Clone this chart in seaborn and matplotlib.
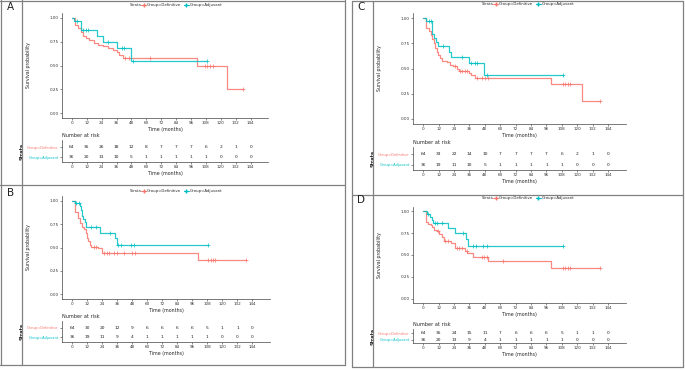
import numpy as np
import matplotlib
matplotlib.use("Agg")
import matplotlib.pyplot as plt
from matplotlib.lines import Line2D
import seaborn as sns

sns.set_theme(style="white")
plt.rcParams["font.family"] = ["DejaVu Sans"]

RED = "#F8766D"
CYAN = "#00BFC4"
BREAKS = [0, 12, 24, 36, 48, 60, 72, 84, 96, 108, 120, 132, 144]

# --- panel A ---
a_def_t = [0, 2.5, 5, 7, 9, 11, 14, 18, 21, 25, 29, 33, 36, 38, 41, 101, 125]
a_def_s = [1.0, 0.92, 0.89, 0.85, 0.81, 0.79, 0.77, 0.74, 0.72, 0.70, 0.68, 0.66, 0.64, 0.61, 0.575, 0.49, 0.25]
a_def_cens = [43, 46, 63, 107, 109, 111, 114, 138]
a_adj_t = [0, 2, 7, 20, 25, 36, 48]
a_adj_s = [1.0, 0.97, 0.87, 0.81, 0.75, 0.68, 0.545]
a_adj_cens = [4, 9, 11, 13, 29, 40, 42, 49, 109]
a_risk_def = [64, 35, 26, 18, 12, 8, 7, 7, 7, 6, 2, 1, 0]
a_risk_adj = [36, 20, 13, 10, 5, 1, 1, 1, 1, 1, 0, 0, 0]

# --- panel B ---
b_def_t = [0, 2.6, 5, 6.5, 8, 9.5, 10.8, 11.8, 13, 14, 15, 20.5, 24, 100.6]
b_def_s = [1.0, 0.88, 0.81, 0.76, 0.72, 0.70, 0.65, 0.60, 0.57, 0.53, 0.51, 0.49, 0.44, 0.365]
b_def_cens = [17.9, 19.2, 25.7, 27.6, 29.7, 33.6, 35.5, 41.5, 48, 50.2, 108.5, 110.6, 112.5, 114.3, 138.7]
b_adj_t = [0, 2.5, 6.5, 7.2, 7.9, 8.7, 10, 11.3, 22.6, 34.4, 35.7]
b_adj_s = [1.0, 0.97, 0.94, 0.90, 0.84, 0.80, 0.77, 0.72, 0.66, 0.60, 0.53]
b_adj_cens = [3.4, 5.5, 15.2, 19.2, 30.5, 37, 39, 46.8, 49.4, 108.5]
b_risk_def = [64, 30, 20, 12, 9, 6, 6, 6, 6, 5, 1, 1, 0]
b_risk_adj = [36, 19, 11, 9, 4, 1, 1, 1, 1, 1, 0, 0, 0]

# --- panel C ---
c_def_t = [0, 2, 4.7, 5.7, 7, 8.3, 9.1, 10.4, 11.7, 13, 14.8, 18.2, 20.8, 23.4, 26, 28, 35.7, 37.2, 40.4, 99.7, 124]
c_def_s = [1.0, 0.90, 0.87, 0.83, 0.79, 0.75, 0.70, 0.66, 0.63, 0.60, 0.575, 0.56, 0.53, 0.52, 0.50, 0.48, 0.46, 0.44, 0.41, 0.35, 0.175]
c_def_cens = [24.7, 28.6, 30.5, 32.6, 33.9, 41.7, 46.1, 48.2, 50.3, 108.6, 110.7, 112.8, 114.6, 138]
c_adj_t = [0, 2, 7, 8.3, 9.6, 11.5, 20, 22, 35.7, 47.4]
c_adj_s = [1.0, 0.97, 0.84, 0.80, 0.76, 0.72, 0.665, 0.61, 0.55, 0.44]
c_adj_cens = [4.4, 5.7, 15.6, 30.5, 37.2, 40.4, 41.7, 49.5, 108.6]
c_risk_def = [64, 33, 22, 14, 10, 7, 7, 7, 7, 6, 2, 1, 0]
c_risk_adj = [36, 19, 11, 10, 5, 1, 1, 1, 1, 1, 0, 0, 0]

# --- panel D ---
d_def_t = [0, 1.8, 3.9, 5.7, 7, 8.6, 10.4, 12.2, 14.3, 15.9, 22, 24.7, 32.6, 34.4, 39, 50.8, 99.7]
d_def_s = [1.0, 0.88, 0.86, 0.84, 0.82, 0.79, 0.77, 0.74, 0.71, 0.66, 0.64, 0.58, 0.55, 0.52, 0.48, 0.43, 0.35]
d_def_cens = [11.7, 16.9, 19, 26, 27.9, 30, 34, 45.6, 47.7, 49.5, 62.5, 108.6, 110.7, 112.8, 114.6, 138]
d_adj_t = [0, 2.6, 5.2, 6.5, 7.8, 19.5, 24.7, 33, 35]
d_adj_s = [1.0, 0.965, 0.93, 0.90, 0.87, 0.81, 0.75, 0.68, 0.60]
d_adj_cens = [3.9, 9.1, 10.4, 14.3, 31.2, 39, 40.9, 46.9, 49.5, 108.6]
d_risk_def = [64, 35, 24, 15, 11, 7, 6, 6, 6, 5, 1, 1, 0]
d_risk_adj = [36, 20, 13, 9, 4, 1, 1, 1, 1, 1, 0, 0, 0]

W, H = 685, 371
fig = plt.figure(figsize=(W / 100, H / 100), dpi=100)


def rect(l, t, r, b):
    return [l / W, 1 - b / H, (r - l) / W, (b - t) / H]


def style_axis(ax):
    for side in ["top", "right"]:
        ax.spines[side].set_visible(False)
    for side in ["left", "bottom"]:
        ax.spines[side].set_color("#444444")
        ax.spines[side].set_linewidth(0.5)
    ax.tick_params(length=1.5, width=0.4, pad=1, labelsize=3.0, colors="#333333",
                   bottom=True, left=True)


def km_curve(ax, t, s, cens, color):
    end = max(cens[-1], t[-1])
    xs = list(t) + [end]
    ys = list(s) + [s[-1]]
    sns.lineplot(x=xs, y=ys, ax=ax, color=color, drawstyle="steps-post",
                 estimator=None, lw=0.9, alpha=0.85)
    idx = np.searchsorted(t, cens, side="right") - 1
    ax.plot(cens, np.array(s)[idx], ls="none", marker="+", ms=2.5, mew=0.6,
            color=color, alpha=0.85)


def panel(km_box, risk_box, legend_xy, letter_xy, letter, curves, risk):
    ax = fig.add_axes(rect(*km_box))
    for t, s, cens, col in curves:
        km_curve(ax, t, s, cens, col)
    ax.set_xlim(-8, 158)
    ax.set_ylim(-0.05, 1.05)
    ax.set_xticks(BREAKS)
    ax.set_yticks([0, 0.25, 0.5, 0.75, 1.0])
    ax.set_yticklabels(["0.00", "0.25", "0.50", "0.75", "1.00"])
    style_axis(ax)
    ax.set_xlabel("Time (months)", fontsize=3.4, labelpad=1)
    ax.set_ylabel("Survival probability", fontsize=3.4, labelpad=13)

    rx = fig.add_axes(rect(*risk_box))
    for i, tm in enumerate(BREAKS):
        rx.text(tm, 2, str(risk[0][i]), ha="center", va="center", fontsize=3.2, color="#222222")
        rx.text(tm, 1, str(risk[1][i]), ha="center", va="center", fontsize=3.2, color="#222222")
    rx.set_xlim(-8, 158)
    rx.set_ylim(0.5, 2.7)
    rx.set_xticks(BREAKS)
    rx.set_yticks([1, 2])
    rx.set_yticklabels(["Group=Adjuvant", "Group=Definitive"])
    style_axis(rx)
    rx.tick_params(axis="y", labelsize=2.6)
    for lab, col in zip(rx.get_yticklabels(), [CYAN, RED]):
        lab.set_color(col)
    rx.set_xlabel("Time (months)", fontsize=3.4, labelpad=1)
    rx.set_ylabel("Strata", fontsize=3.4, labelpad=1.5, fontweight="bold")
    rx.set_title("Number at risk", fontsize=3.6, loc="left", pad=2)

    lx, ly = legend_xy
    fig.text(lx / W, 1 - ly / H, "Strata", fontsize=2.8, va="center", color="#333333")
    handles = [Line2D([], [], color=RED, marker="+", ms=2.2, lw=0.7),
               Line2D([], [], color=CYAN, marker="+", ms=2.2, lw=0.7)]
    fig.legend(handles, ["Group=Definitive", "Group=Adjuvant"], ncol=2,
               loc="center left", bbox_to_anchor=((lx + 11) / W, 1 - ly / H),
               fontsize=2.8, frameon=False, handlelength=1.3, handletextpad=0.3,
               columnspacing=0.6, borderpad=0, borderaxespad=0)
    fig.text(letter_xy[0] / W, 1 - letter_xy[1] / H, letter, fontsize=7.5,
             va="center", ha="left", color="#222222")


panel((62, 13, 268, 118), (62, 140, 268, 162), (130, 5), (7, 7), "A",
      [(a_def_t, a_def_s, a_def_cens, RED), (a_adj_t, a_adj_s, a_adj_cens, CYAN)],
      (a_risk_def, a_risk_adj))
panel((62, 196, 270, 299), (62, 321, 270, 342), (130, 191), (7, 193), "B",
      [(b_def_t, b_def_s, b_def_cens, RED), (b_adj_t, b_adj_s, b_adj_cens, CYAN)],
      (b_risk_def, b_risk_adj))
panel((413, 13, 626, 124), (413, 147, 626, 170), (482, 4), (357, 7), "C",
      [(c_def_t, c_def_s, c_def_cens, RED), (c_adj_t, c_adj_s, c_adj_cens, CYAN)],
      (c_risk_def, c_risk_adj))
panel((413, 207, 626, 303), (413, 329, 626, 343), (482, 198), (357, 200), "D",
      [(d_def_t, d_def_s, d_def_cens, RED), (d_adj_t, d_adj_s, d_adj_cens, CYAN)],
      (d_risk_def, d_risk_adj))

# table borders around the panels
GRID = "#808080"
def hline(y, x0, x1):
    fig.add_artist(Line2D([x0 / W, x1 / W], [1 - y / H, 1 - y / H], color=GRID, lw=0.9))
def vline(x, y0, y1):
    fig.add_artist(Line2D([x / W, x / W], [1 - y0 / H, 1 - y1 / H], color=GRID, lw=0.9))

hline(0.5, 0, 345); hline(185, 0, 345); hline(365, 0, 345)
vline(0.5, 0, 365); vline(22, 0, 365); vline(345, 0, 365)
hline(1, 352, 683); hline(195, 352, 683); hline(367, 352, 683)
vline(352, 1, 367); vline(373, 1, 367); vline(683, 1, 367)

fig.savefig("out.png", dpi=100)
